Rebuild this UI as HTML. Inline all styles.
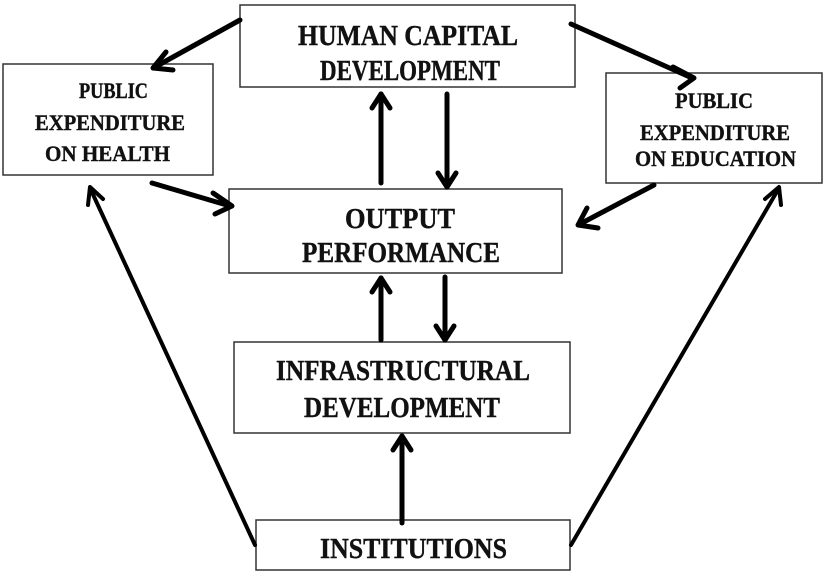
<!DOCTYPE html>
<html><head><meta charset="utf-8"><style>
html,body{margin:0;padding:0;background:#fff;}
svg{display:block;}
text{font-family:"Liberation Serif",serif;font-weight:bold;fill:#111;stroke:#111;stroke-width:0.4;}
</style></head><body>
<svg width="826" height="572" viewBox="0 0 826 572" xmlns="http://www.w3.org/2000/svg">
<g fill="#fff" stroke="#333" stroke-width="1.5">
<rect x="240" y="5" width="335" height="82"/>
<rect x="3" y="64" width="210" height="111"/>
<rect x="606" y="73" width="216" height="110"/>
<rect x="229" y="189" width="333" height="84"/>
<rect x="234" y="342" width="336" height="91"/>
<rect x="256" y="520" width="314" height="50"/>
</g>
<g stroke="#000" stroke-width="5" fill="none" stroke-linecap="round" stroke-linejoin="round">
<line x1="240" y1="20" x2="155" y2="67"/><polyline points="166,52 153,68 173,70"/>
<line x1="571" y1="24" x2="692" y2="78"/><polyline points="673,67 694,78 680,88"/>
<line x1="152" y1="183" x2="230" y2="206"/><polyline points="213,193 232,206 215,214"/>
<line x1="654" y1="185" x2="580" y2="224"/><polyline points="587,208 578,225 598,228"/>
<line x1="381" y1="183" x2="381" y2="94"/><polyline points="372,108 381,94 390,108"/>
<line x1="447" y1="94" x2="447" y2="187"/><polyline points="438,173 447,187 456,173"/>
<line x1="381" y1="340" x2="381" y2="278"/><polyline points="372,292 381,278 390,292"/>
<line x1="445" y1="277" x2="445" y2="340"/><polyline points="436,326 445,340 454,326"/>
<line x1="402" y1="523" x2="402" y2="436"/><polyline points="393,450 402,436 411,450"/>
</g>
<g stroke="#000" stroke-width="4" fill="none" stroke-linecap="round" stroke-linejoin="round">
<line x1="255" y1="545" x2="90" y2="188"/><polyline points="88,205 90,187 103,199"/>
<line x1="571" y1="545" x2="779" y2="188"/><polyline points="765,199 779,187 781,205"/>
</g>
<g font-size="28">
<text x="298" y="45" textLength="220" lengthAdjust="spacingAndGlyphs">HUMAN CAPITAL</text>
<text x="320" y="80" textLength="180" lengthAdjust="spacingAndGlyphs">DEVELOPMENT</text>
<text x="345" y="228" textLength="110" lengthAdjust="spacingAndGlyphs">OUTPUT</text>
<text x="302" y="262" textLength="198" lengthAdjust="spacingAndGlyphs">PERFORMANCE</text>
<text x="276" y="380" textLength="254" lengthAdjust="spacingAndGlyphs">INFRASTRUCTURAL</text>
<text x="304" y="417" textLength="196" lengthAdjust="spacingAndGlyphs">DEVELOPMENT</text>
<text x="320" y="558" textLength="187" lengthAdjust="spacingAndGlyphs">INSTITUTIONS</text>
</g>
<g font-size="22">
<text x="79" y="98" textLength="69" lengthAdjust="spacingAndGlyphs">PUBLIC</text>
<text x="35" y="130" textLength="150" lengthAdjust="spacingAndGlyphs">EXPENDITURE</text>
<text x="45" y="161" textLength="125" lengthAdjust="spacingAndGlyphs">ON HEALTH</text>
<text x="675" y="108" textLength="78" lengthAdjust="spacingAndGlyphs">PUBLIC</text>
<text x="640" y="140" textLength="150" lengthAdjust="spacingAndGlyphs">EXPENDITURE</text>
<text x="635" y="166" textLength="161" lengthAdjust="spacingAndGlyphs">ON EDUCATION</text>
</g>
</svg>
</body></html>
